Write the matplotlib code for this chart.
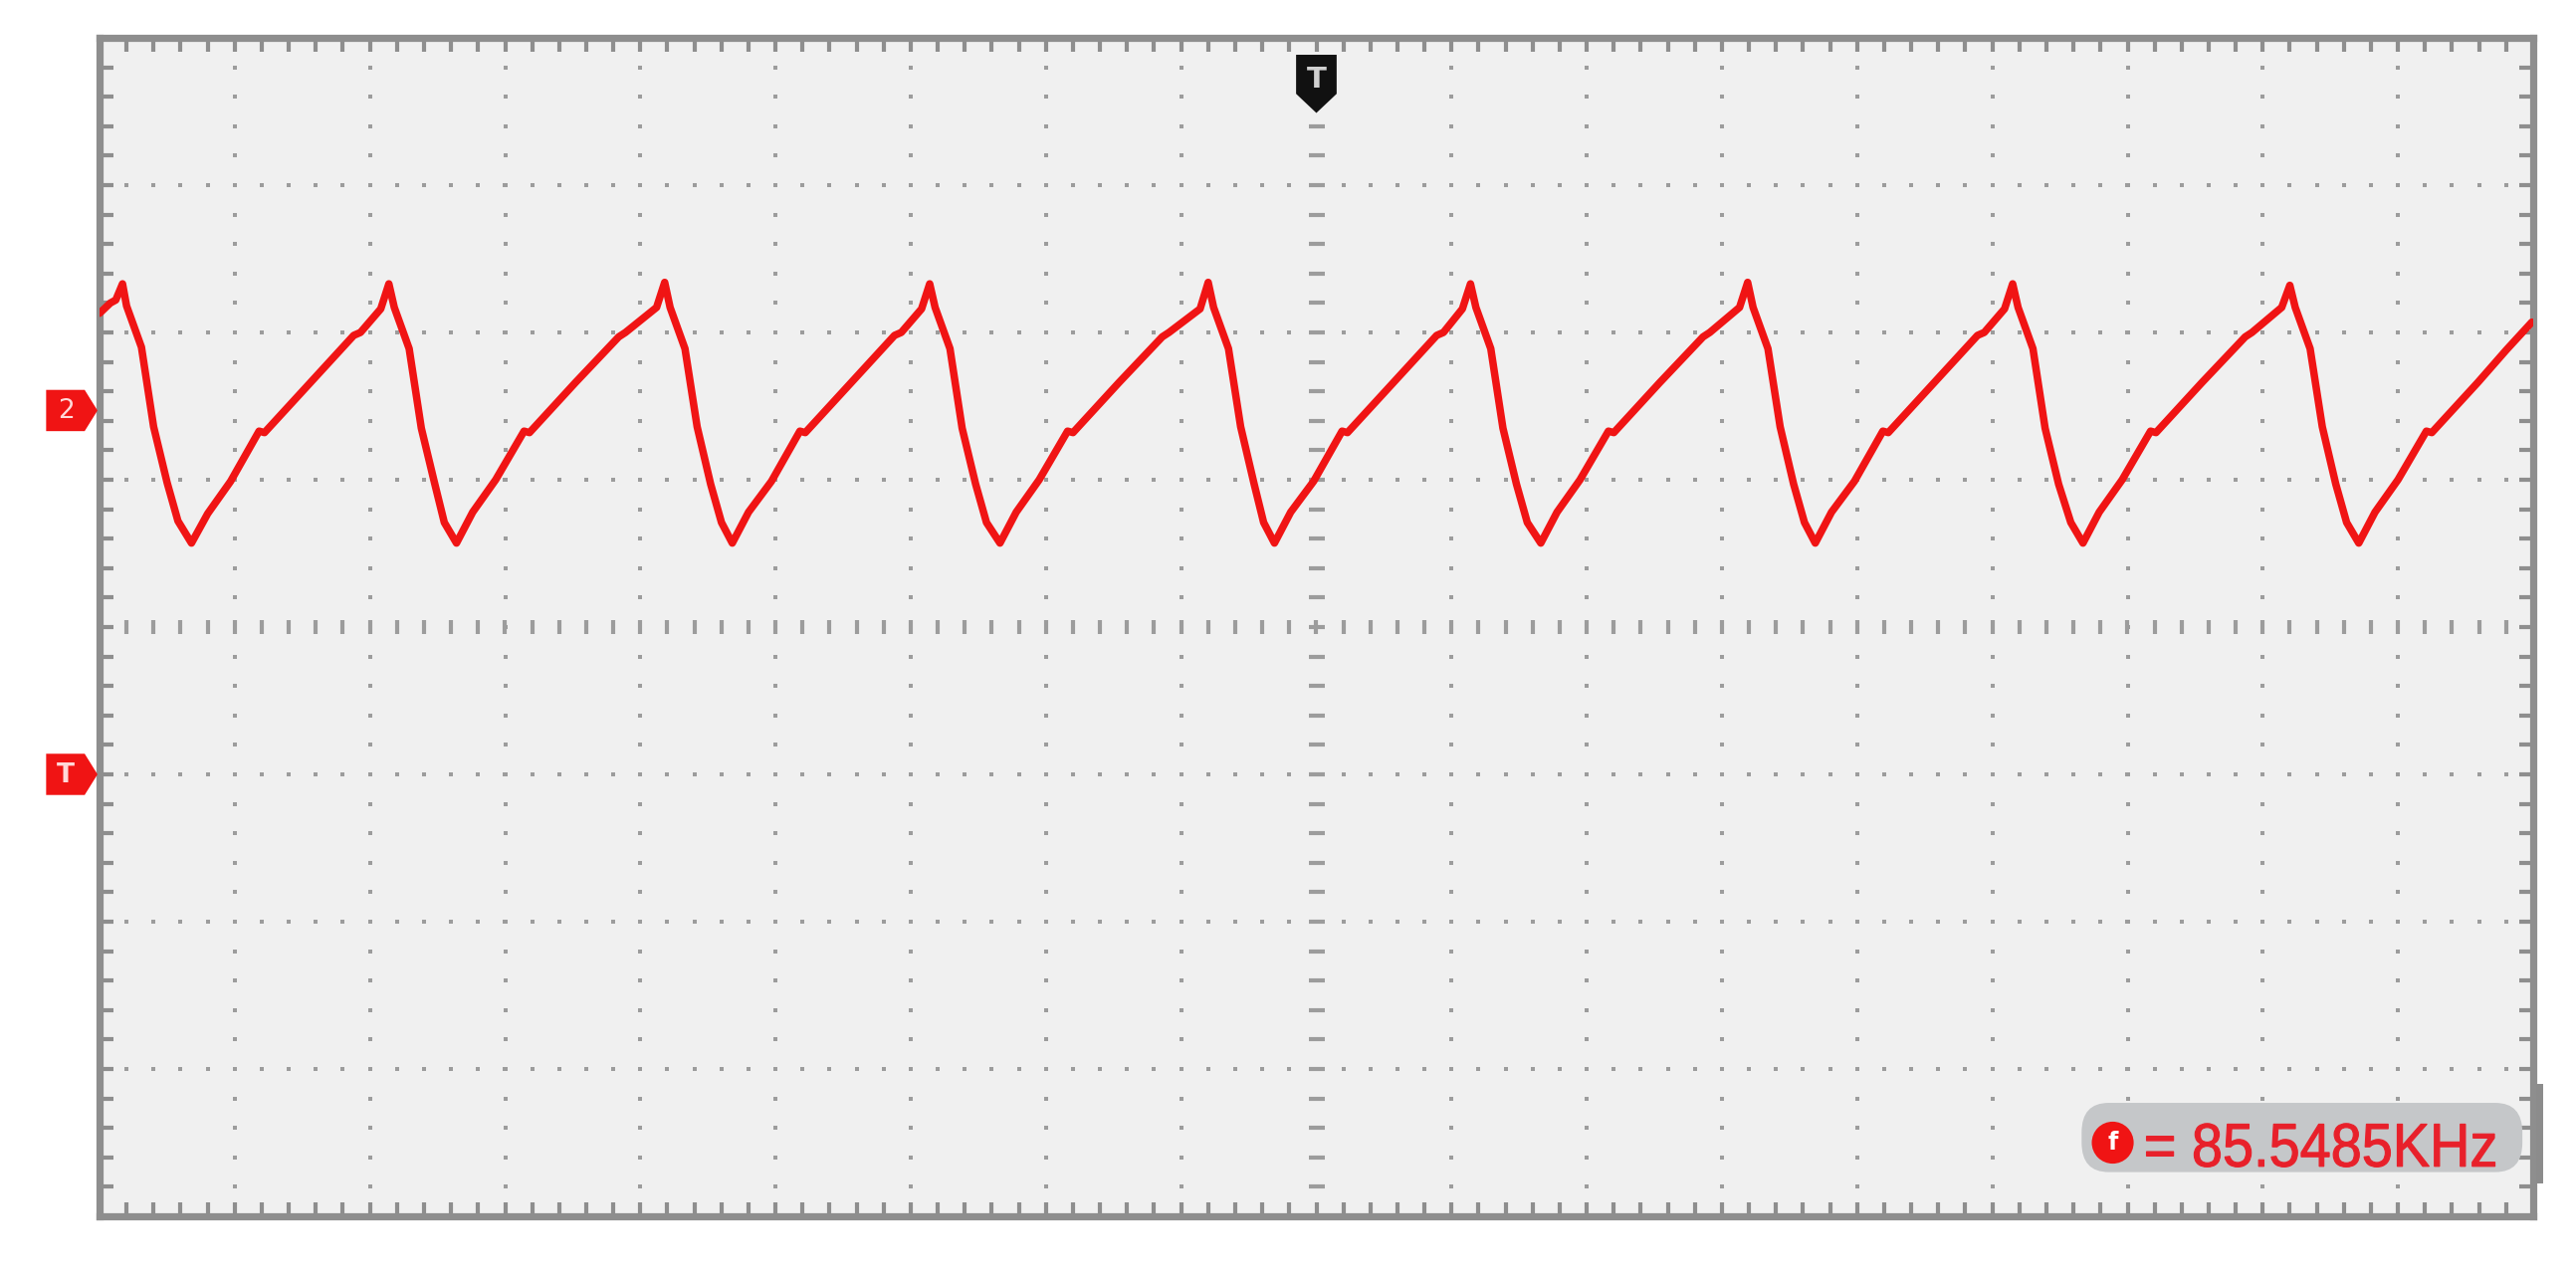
import matplotlib
matplotlib.use("Agg")
import matplotlib.pyplot as plt
import numpy as np
from matplotlib.patches import Polygon, FancyBboxPatch, Ellipse, Rectangle, PathPatch
from matplotlib.textpath import TextPath
from matplotlib.font_manager import FontProperties
from matplotlib.transforms import Affine2D

# screen is 18 x 8 divisions, centre at (0, 0)
X_DIV = 9
Y_DIV = 4

# channel 2 trace (time in div, volts in div)
trace_t = [-9.00, -8.92, -8.88, -8.83, -8.80, -8.69, -8.60, -8.50, -8.42, -8.32,
           -8.20, -8.03, -7.82, -7.78, -7.44, -7.12, -7.07, -6.92,
           -6.86, -6.82, -6.71, -6.62, -6.52, -6.45, -6.36,
           -6.24, -6.07, -5.86, -5.82, -5.48, -5.16, -5.11, -4.88,
           -4.82, -4.78, -4.67, -4.58, -4.48, -4.40, -4.32,
           -4.20, -4.03, -3.82, -3.78, -3.44, -3.12, -3.07, -2.92,
           -2.86, -2.82, -2.71, -2.62, -2.52, -2.44, -2.34,
           -2.22, -2.05, -1.84, -1.80, -1.46, -1.14, -1.09, -0.86,
           -0.80, -0.76, -0.65, -0.56, -0.46, -0.39, -0.31,
           -0.19, -0.02, 0.19, 0.23, 0.57, 0.89, 0.94, 1.08,
           1.14, 1.18, 1.29, 1.38, 1.48, 1.56, 1.66,
           1.78, 1.95, 2.16, 2.20, 2.54, 2.86, 2.91, 3.13,
           3.19, 3.23, 3.34, 3.43, 3.53, 3.61, 3.69,
           3.81, 3.98, 4.19, 4.23, 4.57, 4.89, 4.94, 5.09,
           5.15, 5.19, 5.30, 5.39, 5.49, 5.58, 5.67,
           5.79, 5.96, 6.17, 6.21, 6.55, 6.87, 6.92, 7.14,
           7.20, 7.24, 7.35, 7.44, 7.54, 7.62, 7.71,
           7.83, 8.00, 8.21, 8.25, 8.59, 8.80, 8.99]
trace_v = [2.13, 2.20, 2.22, 2.33, 2.18, 1.90, 1.36, 0.98, 0.72, 0.57,
           0.77, 0.99, 1.33, 1.32, 1.66, 1.98, 2.00, 2.16,
           2.33, 2.17, 1.89, 1.35, 0.97, 0.71, 0.57,
           0.78, 1.00, 1.33, 1.32, 1.66, 1.97, 2.00, 2.17,
           2.34, 2.17, 1.89, 1.36, 0.97, 0.71, 0.57,
           0.78, 0.99, 1.33, 1.32, 1.66, 1.98, 2.00, 2.16,
           2.33, 2.17, 1.89, 1.35, 0.97, 0.71, 0.57,
           0.78, 1.00, 1.33, 1.32, 1.66, 1.97, 2.00, 2.16,
           2.34, 2.17, 1.89, 1.36, 0.97, 0.71, 0.57,
           0.78, 0.99, 1.33, 1.32, 1.66, 1.98, 2.00, 2.16,
           2.33, 2.17, 1.89, 1.35, 0.97, 0.71, 0.57,
           0.78, 1.00, 1.33, 1.32, 1.66, 1.97, 2.00, 2.17,
           2.34, 2.17, 1.89, 1.36, 0.97, 0.71, 0.57,
           0.78, 0.99, 1.33, 1.32, 1.66, 1.98, 2.00, 2.16,
           2.33, 2.17, 1.89, 1.35, 0.97, 0.71, 0.57,
           0.78, 1.00, 1.33, 1.32, 1.66, 1.97, 2.00, 2.17,
           2.32, 2.17, 1.89, 1.36, 0.97, 0.71, 0.57,
           0.78, 1.00, 1.33, 1.32, 1.66, 1.88, 2.07]

ch2_level = 1.47       # channel 2 ground marker
trig_level = -1.0      # trigger level marker
trig_time = 0.0        # trigger position marker
freq_label = "= 85.5485KHz"

red = "#f01414"
grid_c = "#9c9c9c"
frame_c = "#8e8e8e"

fig = plt.figure(figsize=(25.88, 12.85), dpi=100)
ax = fig.add_axes([100 / 2588, 63 / 1285, 2445 / 2588, 1184 / 1285])
ax.set_facecolor("#f0f0f0")
ax.set_xlim(-X_DIV, X_DIV)
ax.set_ylim(-Y_DIV, Y_DIV)

# frame with small ticks every 0.2 div
for s in ax.spines.values():
    s.set_linewidth(5.2)
    s.set_color(frame_c)
ax.set_xticks(np.arange(-X_DIV, X_DIV + 0.01, 1))
ax.set_xticks(np.arange(-X_DIV, X_DIV + 0.01, 0.2), minor=True)
ax.set_yticks(np.arange(-Y_DIV, Y_DIV + 0.01, 1))
ax.set_yticks(np.arange(-Y_DIV, Y_DIV + 0.01, 0.2), minor=True)
ax.tick_params(which="both", direction="in", top=True, right=True,
               labelbottom=False, labelleft=False, length=10, width=3.0,
               color=frame_c)

# dotted graticule
minor_x = np.arange(-X_DIV, X_DIV + 0.01, 0.2)
minor_y = np.arange(-Y_DIV, Y_DIV + 0.01, 0.2)
for k in range(-X_DIV + 1, X_DIV):
    if k == 0:
        continue
    ax.plot(np.full(len(minor_y), k), minor_y, ls="none", marker="s",
            ms=3.2, mew=0, color=grid_c, zorder=1)
for m in range(-Y_DIV + 1, Y_DIV):
    if m == 0:
        continue
    ax.plot(minor_x, np.full(len(minor_x), m), ls="none", marker="s",
            ms=3.2, mew=0, color=grid_c, zorder=1)

# centre axes with tick dashes
ax.plot(minor_x, np.zeros(len(minor_x)), ls="none", marker="|", ms=10,
        mew=3.0, color=grid_c, zorder=1)
ax.plot(np.zeros(len(minor_y)), minor_y, ls="none", marker="_", ms=12,
        mew=3.0, color=grid_c, zorder=1)

# waveform
ax.plot(trace_t, trace_v, color=red, lw=5.4, solid_joinstyle="round",
        solid_capstyle="round", zorder=3)

# trigger position marker at the top
ax.add_patch(Polygon([(trig_time - 0.15, 3.885), (trig_time + 0.15, 3.885),
                      (trig_time + 0.15, 3.62), (trig_time, 3.49),
                      (trig_time - 0.15, 3.62)],
                     closed=True, fc="#111111", ec="none", zorder=5))
ax.text(trig_time, 3.715, "T", color="#d0d0d0", fontsize=21, fontweight="bold",
        ha="center", va="center", zorder=6)

# left side markers (channel ground and trigger level)
for lvl, lab in [(ch2_level, "2"), (trig_level, "T")]:
    ax.add_patch(Polygon([(-9.395, lvl + 0.14), (-9.11, lvl + 0.14),
                          (-9.015, lvl), (-9.11, lvl - 0.14),
                          (-9.395, lvl - 0.14)],
                         closed=True, fc=red, ec="none", clip_on=False, zorder=5))
    ax.text(-9.25, lvl - 0.005, lab, color="#ffd8d8", fontsize=19,
            fontweight="bold" if lab == "T" else "normal",
            ha="center", va="center", clip_on=False, zorder=6)

# frequency readout
ax.add_patch(FancyBboxPatch((5.66, -3.70), 3.26, 0.47,
                            boxstyle="round,pad=0,rounding_size=0.2",
                            fc="#c5c7c9", ec="none", zorder=4))
ax.add_patch(Ellipse((5.89, -3.50), 0.31, 0.285, fc=red, ec="none", zorder=5))
ax.text(5.893, -3.50, "f", color="white", fontsize=17, fontweight="bold",
        ha="center", va="center", zorder=6)

# readout text drawn as a condensed text path
tp = TextPath((0, 0), freq_label, size=1, prop=FontProperties(family="Liberation Sans"))
bb = tp.get_extents()
sx = (2506 - 2156) / 135.8 / bb.width
sy = 0.295 / bb.height
tr = Affine2D().translate(-bb.x0, -bb.y0).scale(sx, sy).translate(6.14, -3.665) + ax.transData
ax.add_patch(PathPatch(tp, transform=tr, fc="#e8202a", ec="#e8202a", lw=0.8, zorder=6))

# small scrollbar stub on the right edge
ax.add_patch(Rectangle((9.02, -3.78), 0.05, 0.68, fc="#8c8c8c", ec="none",
                       clip_on=False, zorder=5))

fig.savefig("out.png", dpi=100)
